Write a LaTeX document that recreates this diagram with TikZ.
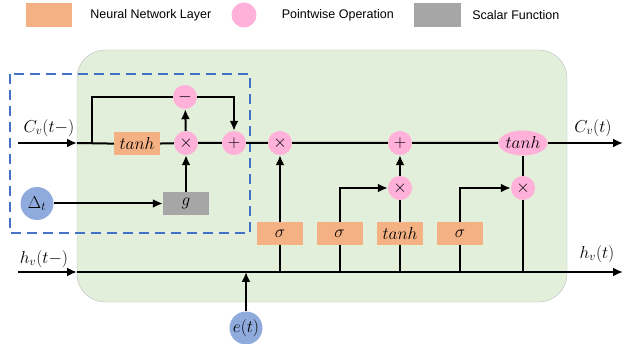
\documentclass[tikz,border=0pt]{standalone}
\usepackage{fontspec}
\usepackage{amsmath,amssymb}
\newfontfamily\legendfont{Liberation Sans}
\usetikzlibrary{arrows,arrows.meta,shapes}
\usetikzlibrary{positioning}
\usetikzlibrary{calc}

\definecolor{nnorange}{HTML}{F4B183}
\definecolor{pwpink}{HTML}{FFB1D9}
\definecolor{sfgray}{HTML}{A6A6A6}
\definecolor{cellgreen}{HTML}{E2EFDA}
\definecolor{cellborder}{HTML}{BDBDBD}
\definecolor{inblue}{HTML}{8FAADC}
\definecolor{dashblue}{HTML}{4472C4}

\tikzset{
  every node/.style={font=\fontsize{17.28}{20}\selectfont},
  nnlayer/.style={draw=none,fill=nnorange,minimum width=46pt,minimum height=23pt,inner sep=0pt},
  pwop/.style={draw=none,circle,fill=pwpink,minimum size=24pt,inner sep=0pt},
  scalarfn/.style={draw=none,fill=sfgray,minimum width=46pt,minimum height=23pt,inner sep=0pt},
  innode/.style={draw=none,circle,fill=inblue,minimum size=33pt,inner sep=0pt},
  legendtext/.style={draw=none,inner sep=0pt,font=\legendfont\fontsize{12.5}{14}\selectfont},
  wire/.style={line width=2pt,black},
  flow/.style={wire,-{Latex[length=10pt,width=9pt]}},
}

\begin{document}
\begin{tikzpicture}[x=1pt,y=-1pt]
    \useasboundingbox (0,0) rectangle (623,344);
    % legend
    \node[nnlayer,minimum height=24pt] (legnn) at (49,15) {};
    \node[legendtext,right=18pt of legnn] (legnntext) {Neural Network Layer};
    \node[pwop,minimum size=25pt] (legpw) at (244,15) {};
    \node[legendtext,right=25pt of legpw] (legpwtext) {Pointwise Operation};
    \node[scalarfn,minimum width=47pt,minimum height=24pt] (legsf) at (437.5,15) {};
    \node[legendtext,right=11pt of legsf] (legsftext) {Scalar Function};

    % cell body
    \draw[fill=cellgreen,draw=cellborder,rounded corners=28pt] (77,50) rectangle (567,302);
    \draw[dashblue,line width=2pt,dash pattern=on 10pt off 6pt] (10,74) rectangle (250,233);

    % ends of the two state lines
    \coordinate (cin) at (18,143);
    \coordinate (cinend) at (77,143);
    \coordinate (split) at (92,143);
    \coordinate (cout) at (623,143);
    \coordinate (hin) at (18,272);
    \coordinate (hinend) at (77,272);
    \coordinate (hout) at (623,272);

    % time decay part
    \node[nnlayer] (tanhin) at (137,144) {$tanh$};
    \node[pwop] (mulg) at (186,143) {$\times$};
    \node[pwop] (minus) at (185,97) {$-$};
    \node[pwop] (addg) at (234,143) {$+$};
    \node[scalarfn] (g) at (186,203.5) {$g$};
    \node[innode] (dt) at (37,203.5) {$\Delta_t$};

    % gates
    \node[pwop] (mulf) at (280,143) {$\times$};
    \node[pwop] (addi) at (400,143) {$+$};
    \node[pwop,ellipse,minimum width=46pt,minimum height=25pt] (tanhout) at (523,143) {$tanh$};
    \node[pwop] (muli) at (400,188) {$\times$};
    \node[pwop] (mulo) at (523,188) {$\times$};
    \node[nnlayer] (sigf) at (280,233.5) {$\sigma$};
    \node[nnlayer] (sigi) at (339.5,233.5) {$\sigma$};
    \node[nnlayer] (tanhc) at (400,233.5) {$tanh$};
    \node[nnlayer] (sigo) at (460,233.5) {$\sigma$};
    \node[innode] (et) at (246,328) {$e(t)$};

    % labels
    \node[draw=none] (cinlabel) at (49,128) {$C_v(t-)$};
    \node[draw=none] (coutlabel) at (593,128) {$C_v(t)$};
    \node[draw=none] (hinlabel) at (44,259) {$h_v(t-)$};
    \node[draw=none] (houtlabel) at (597,254) {$h_v(t)$};

    % cell state line
    \draw[flow] (cin)--(cinend);
    \draw[wire] (cinend)--(tanhin)--(mulg)--(addg)--(mulf)--(addi)--(tanhout);
    \draw[flow] (tanhout)--(cout);
    \draw[wire] (split) |- (minus);
    \draw[flow] (minus) -| (addg);
    \draw[flow] (mulg)--(minus);
    \draw[flow] (g)--(mulg);
    \draw[flow] (dt)--(g);

    % gate connections
    \draw[flow] (sigf)--(mulf);
    \draw[flow] (sigi) |- (muli);
    \draw[wire] (tanhc)--(muli);
    \draw[flow] (muli)--(addi);
    \draw[flow] (sigo) |- (mulo);
    \draw[wire] (mulo)--(tanhout);

    % hidden state line
    \draw[flow] (hin)--(hinend);
    \draw[flow] (hinend)--(hout);
    \foreach \g in {sigf,sigi,tanhc,sigo,mulo}
      \draw[wire] (\g |- hout)--(\g);
    \draw[flow] (et)--(et |- hout);
  \end{tikzpicture}
\end{document}
